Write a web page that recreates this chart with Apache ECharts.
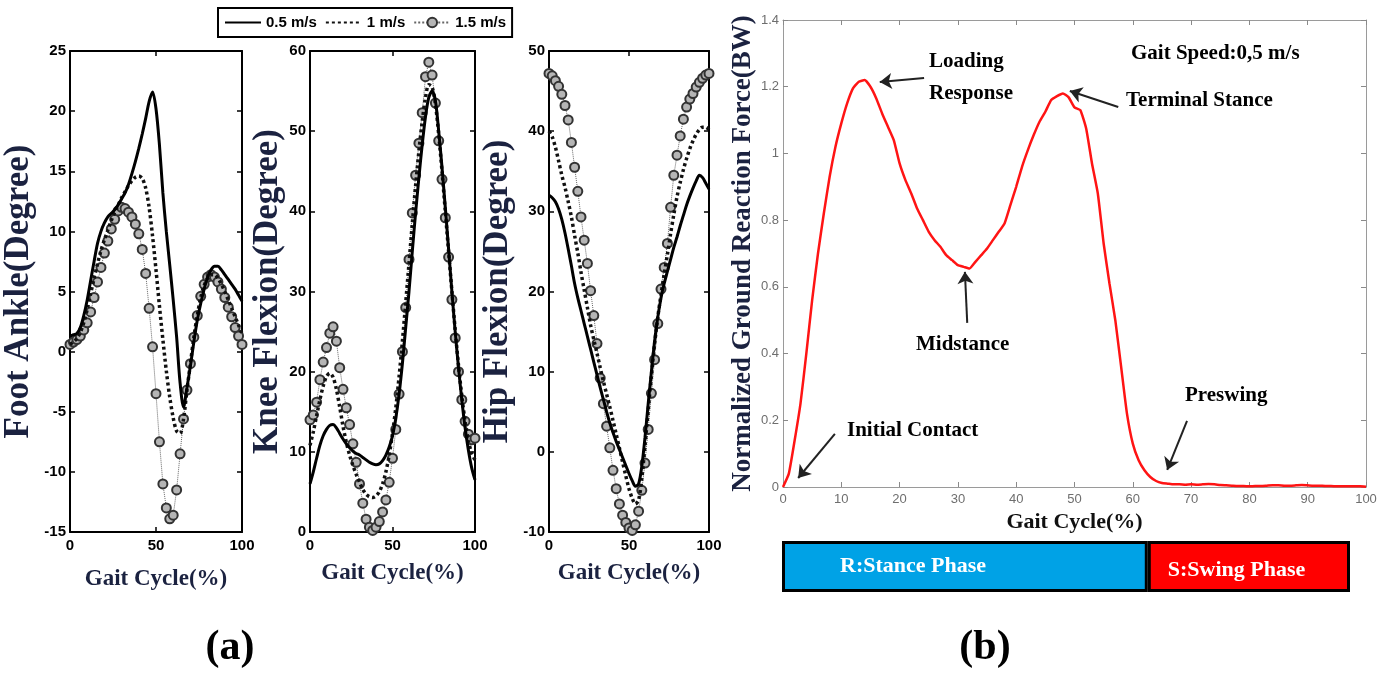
<!DOCTYPE html>
<html>
<head>
<meta charset="utf-8">
<script src="https://cdn.jsdelivr.net/npm/echarts/dist/echarts.min.js"></script>
<style>
  html, body { margin: 0; padding: 0; background: #fff; }
  #chart { width: 1392px; height: 673px; }
</style>
</head>
<body>
<div id="chart"></div>
<script>
// gait cycle sample points (%)
const gaitPct = [0,2,4,6,8,10,12,14,16,18,20,22,24,26,28,30,32,34,36,38,40,42,44,46,48,50,
  52,54,56,58,60,62,64,66,68,70,72,74,76,78,80,82,84,86,88,90,92,94,96,98,100];
const speedNames = ["0.5 m/s", "1 m/s", "1.5 m/s"];

// foot ankle (degree)
const footSlow = [1.3,1.4,1.5,2.0,3.0,4.3,5.9,7.5,9.0,10.0, 10.7,11.2,11.5,11.8,12.2,12.7,13.2,13.9,14.8,15.8,
  16.9,18.1,19.4,20.8,21.6,20.2,17.2,13.2,10.0,7.2, 4.3,1.2,-2.6,-4.6,-3.0,-1.2,0.8,2.6,4.0,5.2,
  6.2,6.8,7.1,7.1,6.8,6.4,6.0,5.6,5.2,4.7, 4.2];
const footMid = [0.6,0.8,1.1,1.6,2.4,3.5,4.8,6.1,7.3,8.4, 9.3,10.1,10.9,11.6,12.2,12.8,13.3,13.8,14.2,14.5,
  14.6,14.4,13.6,12.0,9.6,6.8,3.8,1.0,-1.6,-3.8, -5.5,-6.6,-6.8,-5.6,-3.2,-1.0,1.2,3.0,4.5,5.5,
  6.1,6.4,6.4,6.1,5.6,5.0,4.3,3.6,2.9,2.2, 1.5];
const footFast = [0.6,0.8,1.0,1.3,1.8,2.4,3.3,4.5,5.8,7.0, 8.2,9.2,10.2,11.0,11.7,12.0,11.9,11.6,11.2,10.6,
  9.8,8.5,6.5,3.6,0.4,-3.5,-7.5,-11.0,-13.0,-13.9, -13.6,-11.5,-8.5,-5.6,-3.2,-1.0,1.2,3.0,4.6,5.6,
  6.2,6.4,6.2,5.8,5.2,4.5,3.7,2.9,2.0,1.3, 0.6];

// knee flexion (degree)
const kneeSlow = [6.0,7.5,9.2,10.8,12.0,12.8,13.3,13.4,13.0,12.3, 11.6,11.0,10.5,10.1,9.8,9.6,9.3,9.0,8.7,8.5,
  8.4,8.5,8.9,9.6,10.6,12.0,14.2,17.2,21.0,25.5, 30.0,35.0,39.8,44.2,48.3,51.8,54.2,55.0,53.8,50.0,
  45.5,40.5,35.3,30.0,25.0,20.5,16.5,13.0,10.2,8.0, 6.5];
const kneeMid = [10.8,12.5,14.5,16.5,18.2,19.4,19.8,19.3,17.8,15.6, 13.2,11.2,9.6,8.3,7.2,6.2,5.3,4.7,4.4,4.3,
  4.5,5.0,6.0,7.5,9.6,12.3,15.5,19.4,23.8,28.6, 33.5,38.5,43.2,47.5,51.2,54.2,55.8,55.5,53.4,49.6,
  45.0,40.0,35.0,30.0,25.2,20.8,17.0,13.8,11.4,9.8, 9.0];
const kneeFast = [14.0,14.6,16.2,19.0,21.2,23.0,24.8,25.6,23.8,20.5, 17.8,15.5,13.4,11.0,8.7,6.0,3.6,1.6,0.6,0.2,
  0.6,1.3,2.5,4.0,6.2,9.2,12.8,17.2,22.5,28.0, 34.0,39.8,44.5,48.5,52.3,56.8,58.6,57.0,53.5,48.8,
  44.0,39.2,34.3,29.0,24.2,20.0,16.5,13.8,12.2,11.5, 11.7];

// hip flexion (degree)
const hipSlow = [32.0,31.7,31.2,30.3,29.0,27.3,25.3,23.2,21.0,19.2, 17.6,16.0,14.4,12.8,11.2,9.6,8.0,6.5,5.0,3.6,
  2.4,1.3,0.3,-0.7,-1.7,-2.7,-3.6,-4.3,-4.0,-1.8, 1.8,6.0,10.0,13.8,16.8,19.2,21.0,22.5,24.0,25.5,
  26.8,28.2,29.5,30.8,31.9,32.9,33.8,34.5,34.2,33.5, 32.8];
const hipMid = [40.0,39.3,38.0,36.3,34.5,33.0,31.2,29.3,27.0,24.8, 22.4,20.2,18.0,15.8,14.0,12.3,10.5,8.8,7.2,5.6,
  3.9,2.2,0.5,-1.3,-3.0,-4.6,-5.8,-6.5,-6.0,-3.3, 0.8,5.2,9.5,13.5,16.8,19.6,22.2,24.6,27.2,29.6,
  31.8,33.6,35.2,36.6,37.8,38.8,39.6,40.2,40.5,40.5, 40.2];
const hipFast = [47.2,46.9,46.3,45.6,44.6,43.2,41.4,38.6,35.5,32.5, 29.3,26.4,23.5,20.1,17.0,13.5,9.2,6.0,3.2,0.5,
  -2.3,-4.6,-6.5,-7.9,-8.8,-9.5,-9.8,-9.1,-7.4,-4.8, -1.4,2.8,7.3,11.5,16.0,20.3,23.0,26.0,30.5,34.5,
  37.0,39.4,41.5,43.0,44.0,44.7,45.5,46.1,46.6,47.0, 47.2];

// normalized ground reaction force (BW), 0..100 % step 1
const grfPct = [0,1,2,3,4,5,6,7,8,9,10,11,12,13,14,15,16,17,18,19,20,21,22,23,24,25,26,27,28,29,30,
  31,32,33,34,35,36,37,38,39,40,41,42,43,44,45,46,47,48,49,50,51,52,53,54,55,56,57,58,59,60,
  61,62,63,64,65,66,67,68,69,70,71,72,73,74,75,76,77,78,79,80,81,82,83,84,85,86,87,88,89,90,
  91,92,93,94,95,96,97,98,99,100];
const grf = [0.00,0.04,0.14,0.25,0.40,0.56,0.70,0.82,0.93,1.02,
  1.09,1.15,1.195,1.215,1.22,1.20,1.165,1.12,1.08,1.04,
  0.97,0.92,0.88,0.835,0.80,0.765,0.74,0.72,0.695,0.68,
  0.665,0.66,0.655,0.675,0.695,0.715,0.74,0.765,0.79,0.845,
  0.90,0.96,1.01,1.055,1.095,1.125,1.16,1.172,1.18,1.168,
  1.138,1.13,1.075,0.97,0.88,0.73,0.61,0.50,0.36,0.22,
  0.13,0.08,0.05,0.03,0.018,0.012,0.01,
  0.008,0.008,0.007,0.008,0.007,0.008,0.009,0.008,0.006,0.005,0.004,0.003,0.003,0.002,0.003,0.003,0.004,
  0.005,0.005,0.004,0.004,0.005,0.006,0.005,0.004,0.004,0.003,0.003,0.002,0.002,0.002,0.002,0.002,0.001];

// gait phases
const phaseNames = ["R:Stance Phase", "S:Swing Phase"];
const phaseSpan = [64.4, 35.6];

const pairs = (xs, ys) => xs.map((x, i) => [x, ys[i]]);

const SERIF = '"Liberation Serif", "Times New Roman", serif';
const SANS = '"Liberation Sans", Arial, sans-serif';
const NAVY = "#1b2240";

// MATLAB style box axes for the three (a) panels
const panelA = [
  { left: 70, width: 172, min: -15, max: 25, interval: 5, name: "Foot Ankle(Degree)", gap: 34, xGap: 36 },
  { left: 310, width: 165, min: 0, max: 60, interval: 10, name: "Knee Flexion(Degree)", gap: 20, xGap: 30 },
  { left: 549, width: 160, min: -10, max: 50, interval: 10, name: "Hip Flexion(Degree)", gap: 34, xGap: 30 },
];

const grids = [];
const xAxes = [];
const yAxes = [];

panelA.forEach((p, i) => {
  grids.push({ left: p.left, top: 51, width: p.width, height: 481 });
  const line = { show: true, onZero: false, lineStyle: { color: "#000", width: 2 } };
  const tick = { show: true, inside: true, length: 5, lineStyle: { color: "#000", width: 1.5 } };
  const label = { color: "#000", fontWeight: "bold", fontSize: 15, fontFamily: SANS };
  xAxes.push({
    gridIndex: i, type: "value", min: 0, max: 100, interval: 50, position: "bottom",
    axisLine: line, axisTick: tick, splitLine: { show: false },
    axisLabel: Object.assign({ margin: 6 }, label),
    name: "Gait Cycle(%)", nameLocation: "middle", nameGap: p.xGap,
    nameTextStyle: { color: NAVY, fontFamily: SERIF, fontWeight: "bold", fontSize: 23 },
  });
  xAxes.push({
    gridIndex: i, type: "value", min: 0, max: 100, interval: 50, position: "top",
    axisLine: line, axisTick: tick, axisLabel: { show: false }, splitLine: { show: false },
  });
  yAxes.push({
    gridIndex: i, type: "value", min: p.min, max: p.max, interval: p.interval, position: "left",
    axisLine: line, axisTick: tick, splitLine: { show: false },
    axisLabel: Object.assign({ margin: 4 }, label),
    name: p.name, nameLocation: "middle", nameGap: p.gap,
    nameTextStyle: { color: NAVY, fontFamily: SERIF, fontWeight: "bold", fontSize: 35 },
  });
  yAxes.push({
    gridIndex: i, type: "value", min: p.min, max: p.max, interval: p.interval, position: "right",
    axisLine: line, axisTick: tick, axisLabel: { show: false }, splitLine: { show: false },
  });
});

// (b) ground reaction force panel
grids.push({ left: 783, top: 20, width: 583, height: 467 });
const gLine = { show: true, onZero: false, lineStyle: { color: "#9a9a9a", width: 1 } };
const gTick = { show: true, inside: true, length: 5, lineStyle: { color: "#8a8a8a" } };
const gLabel = { color: "#6e6e6e", fontSize: 13, fontFamily: SANS };
xAxes.push({
  gridIndex: 3, type: "value", min: 0, max: 100, interval: 10, position: "bottom",
  axisLine: gLine, axisTick: gTick, splitLine: { show: false },
  axisLabel: Object.assign({ margin: 6 }, gLabel),
  name: "Gait Cycle(%)", nameLocation: "middle", nameGap: 22,
  nameTextStyle: { color: "#111", fontFamily: SERIF, fontWeight: "bold", fontSize: 22 },
});
xAxes.push({
  gridIndex: 3, type: "value", min: 0, max: 100, interval: 10, position: "top",
  axisLine: gLine, axisTick: gTick, axisLabel: { show: false }, splitLine: { show: false },
});
yAxes.push({
  gridIndex: 3, type: "value", min: 0, max: 1.4, interval: 0.2, position: "left",
  axisLine: gLine, axisTick: gTick, splitLine: { show: false },
  axisLabel: Object.assign({ margin: 4 }, gLabel),
  name: "Normalized Ground Reaction Force(BW)", nameLocation: "middle", nameGap: 25,
  nameTextStyle: { color: NAVY, fontFamily: SERIF, fontWeight: "bold", fontSize: 27 },
});
yAxes.push({
  gridIndex: 3, type: "value", min: 0, max: 1.4, interval: 0.2, position: "right",
  axisLine: gLine, axisTick: gTick, axisLabel: { show: false }, splitLine: { show: false },
});

// phase bar under (b)
grids.push({ left: 782, top: 541, width: 568, height: 51 });
xAxes.push({ gridIndex: 4, type: "value", min: 0, max: 100, show: false });
yAxes.push({ gridIndex: 4, type: "category", data: ["phase"], show: false });

// series helpers; hidden itemStyle keeps the legend icon a plain line
function slowLine(name, xi, yi, ys) {
  return {
    name, type: "line", xAxisIndex: xi, yAxisIndex: yi, data: pairs(gaitPct, ys),
    showSymbol: false, symbol: "none", smooth: 0.3, z: 4,
    lineStyle: { color: "#000", width: 3 }, itemStyle: { color: "#000", opacity: 0 },
  };
}
function midLine(name, xi, yi, ys) {
  return {
    name, type: "line", xAxisIndex: xi, yAxisIndex: yi, data: pairs(gaitPct, ys),
    showSymbol: false, symbol: "none", smooth: 0.3, z: 3,
    lineStyle: { color: "#111", width: 3.5, type: [3, 3] }, itemStyle: { color: "#111", opacity: 0 },
  };
}
function fastLine(name, xi, yi, ys) {
  return {
    name, type: "line", xAxisIndex: xi, yAxisIndex: yi, data: pairs(gaitPct, ys),
    symbol: "circle", symbolSize: 9, z: 2,
    lineStyle: { color: "#666", width: 1, type: "dotted" },
    itemStyle: { color: "#b5b5b5", borderColor: "#333", borderWidth: 2 },
  };
}

const series = [];
[[footSlow, footMid, footFast], [kneeSlow, kneeMid, kneeFast], [hipSlow, hipMid, hipFast]].forEach((set, i) => {
  const xi = i * 2, yi = i * 2;
  series.push(fastLine(speedNames[2], xi, yi, set[2]));
  series.push(midLine(speedNames[1], xi, yi, set[1]));
  series.push(slowLine(speedNames[0], xi, yi, set[0]));
});

// arrows pointing at the gait events
const arrow = (a, b) => [{ coord: a }, { coord: b }];
series.push({
  name: "GRF", type: "line", xAxisIndex: 6, yAxisIndex: 6, data: pairs(grfPct, grf),
  showSymbol: false, symbol: "none", smooth: 0.15, lineStyle: { color: "#ff1414", width: 2.5 },
  markLine: {
    silent: true, symbol: ["none", "arrow"], symbolSize: 12,
    label: { show: false },
    lineStyle: { color: "#222", width: 2, type: "solid" },
    itemStyle: { color: "#222" },
    data: [
      arrow([24.2, 1.226], [16.6, 1.214]),
      arrow([57.5, 1.139], [49.2, 1.187]),
      arrow([31.6, 0.492], [31.2, 0.645]),
      arrow([8.9, 0.159], [2.6, 0.027]),
      arrow([69.3, 0.198], [65.9, 0.051]),
    ],
  },
});

const phaseLabel = { show: true, position: "insideLeft", color: "#fff", fontFamily: SERIF, fontWeight: "bold", fontSize: 22 };
series.push({
  name: phaseNames[0], type: "bar", xAxisIndex: 8, yAxisIndex: 8, stack: "phase", barWidth: "100%",
  data: [phaseSpan[0]],
  itemStyle: { color: "#00a2e6", borderColor: "#000", borderWidth: 3 },
  label: Object.assign({ distance: 58, formatter: phaseNames[0] }, phaseLabel),
});
series.push({
  name: phaseNames[1], type: "bar", xAxisIndex: 8, yAxisIndex: 8, stack: "phase", barWidth: "100%",
  data: [phaseSpan[1]],
  itemStyle: { color: "#ff0000", borderColor: "#000", borderWidth: 3 },
  label: Object.assign({ distance: 20, offset: [0, 4], formatter: phaseNames[1] }, phaseLabel),
});

const noteFont = 'bold 21px ' + SERIF;
const note = (text, x, y, align) => ({
  type: "text", x, y, silent: true,
  style: { text, fill: "#000", font: noteFont, align: align || "left", verticalAlign: "middle" },
});

const option = {
  backgroundColor: "#fff",
  animation: false,
  legend: {
    data: speedNames, left: 218, top: 8, padding: [7, 6],
    borderColor: "#000", borderWidth: 2, itemGap: 8, itemWidth: 36, itemHeight: 12,
    textStyle: { color: "#000", fontWeight: "bold", fontSize: 15, fontFamily: SANS },
  },
  grid: grids,
  xAxis: xAxes,
  yAxis: yAxes,
  series,
  graphic: [
    note("Loading", 929, 62),
    note("Response", 929, 94),
    note("Gait Speed:0,5 m/s", 1131, 54),
    note("Terminal Stance", 1126, 101),
    note("Midstance", 916, 345),
    note("Preswing", 1185, 396),
    note("Initial Contact", 847, 431),
    {
      type: "text", x: 230, y: 648, silent: true,
      style: { text: "(a)", fill: "#000", font: "bold 42px " + SERIF, align: "center", verticalAlign: "middle" },
    },
    {
      type: "text", x: 985, y: 648, silent: true,
      style: { text: "(b)", fill: "#000", font: "bold 42px " + SERIF, align: "center", verticalAlign: "middle" },
    },
  ],
};

const chart = echarts.init(document.getElementById("chart"), null, { renderer: "canvas" });
chart.setOption(option);
</script>
</body>
</html>
